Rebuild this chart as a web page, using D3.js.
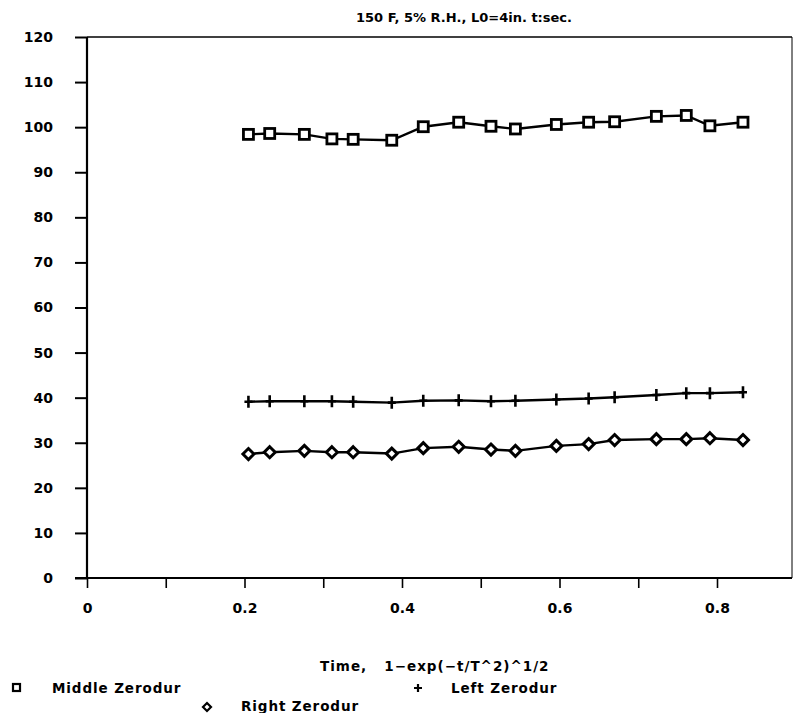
<!DOCTYPE html>
<html>
<head>
<meta charset="utf-8">
<script src="https://cdn.jsdelivr.net/npm/d3@7"></script>
<style>
  body { margin: 0; background: #fff; }
  svg { display: block; }
</style>
</head>
<body>
<svg width="795" height="713"></svg>
<script>
var timeValues = [0.205, 0.232, 0.276, 0.311, 0.338, 0.387, 0.427, 0.472, 0.513, 0.544, 0.596, 0.637, 0.670, 0.723, 0.761, 0.791, 0.833];
var middleZerodur = [98.4, 98.6, 98.4, 97.4, 97.3, 97.1, 100.1, 101.1, 100.2, 99.6, 100.6, 101.1, 101.2, 102.4, 102.6, 100.3, 101.1];
var leftZerodur = [39.1, 39.2, 39.2, 39.2, 39.1, 38.9, 39.3, 39.4, 39.2, 39.3, 39.6, 39.8, 40.1, 40.6, 41.0, 41.0, 41.2];
var rightZerodur = [27.5, 27.9, 28.2, 27.9, 27.9, 27.6, 28.8, 29.1, 28.5, 28.2, 29.3, 29.7, 30.6, 30.8, 30.8, 31.0, 30.6];
var xTicks = [0, 0.1, 0.2, 0.3, 0.4, 0.5, 0.6, 0.7, 0.8];
var xTickLabels = ['0', '', '0.2', '', '0.4', '', '0.6', '', '0.8'];
var yTicks = [0, 10, 20, 30, 40, 50, 60, 70, 80, 90, 100, 110, 120];

var svg = d3.select("svg");
var font = "'DejaVu Sans', sans-serif";

var plotLeft = 87, plotRight = 792, plotTop = 37, plotBottom = 578;

var x = d3.scaleLinear().domain([0, 0.8]).range([87, 717]);
var y = d3.scaleLinear().domain([0, 120]).range([plotBottom, plotTop]);

// frame (top and right lines)
svg.append("line")
    .attr("x1", plotLeft).attr("x2", plotRight)
    .attr("y1", plotTop).attr("y2", plotTop)
    .attr("stroke", "#000").attr("stroke-width", 1.6);
svg.append("line")
    .attr("x1", plotRight).attr("x2", plotRight)
    .attr("y1", plotTop).attr("y2", plotBottom)
    .attr("stroke", "#000").attr("stroke-width", 1);

// y axis
var yAxis = svg.append("g")
    .attr("transform", "translate(" + plotLeft + ",0)")
    .call(d3.axisLeft(y).tickValues(yTicks).tickSize(12).tickPadding(22));
yAxis.select(".domain").attr("stroke-width", 2.2).attr("d", "M0," + plotBottom + "V" + plotTop);
yAxis.selectAll(".tick line").attr("stroke-width", 2);
yAxis.selectAll("text")
    .attr("font-family", font)
    .attr("font-weight", "bold")
    .attr("font-size", 14)
    .attr("fill", "#000");

// x axis
var xAxis = svg.append("g")
    .attr("transform", "translate(0," + plotBottom + ")")
    .call(d3.axisBottom(x).tickValues(xTicks)
        .tickFormat(function(d, i) { return xTickLabels[i]; })
        .tickSize(10).tickPadding(15));
xAxis.select(".domain").attr("stroke-width", 2.2).attr("d", "M" + (plotLeft - 12) + ",0H" + plotRight);
xAxis.selectAll(".tick line").attr("stroke-width", 1.6);
xAxis.selectAll("text")
    .attr("font-family", font)
    .attr("font-weight", "bold")
    .attr("font-size", 14)
    .attr("fill", "#000");

// title
svg.append("text")
    .attr("x", 464)
    .attr("y", 22)
    .attr("text-anchor", "middle")
    .attr("font-family", font)
    .attr("font-weight", "bold")
    .attr("font-size", 13)
    .text("150 F, 5% R.H., L0=4in. t:sec.");

// x axis title
svg.append("text")
    .attr("x", 320)
    .attr("y", 671)
    .attr("font-family", font)
    .attr("font-weight", "bold")
    .attr("font-size", 13.5)
    .attr("letter-spacing", 1)
    .attr("xml:space", "preserve")
    .text("Time,   1\u2212exp(\u2212t/T^2)^1/2");

var line = d3.line()
    .x(function(d) { return x(d[0]); })
    .y(function(d) { return y(d[1]); });

function pairs(values) {
    return values.map(function(v, i) { return [timeValues[i], v]; });
}

var series = [middleZerodur, leftZerodur, rightZerodur];
series.forEach(function(s) {
    svg.append("path")
        .datum(pairs(s))
        .attr("d", line)
        .attr("fill", "none")
        .attr("stroke", "#000")
        .attr("stroke-width", 2.4);
});

// square markers
svg.selectAll(".sq")
    .data(pairs(middleZerodur))
    .enter()
    .append("rect")
    .attr("class", "sq")
    .attr("x", function(d) { return x(d[0]) - 5; })
    .attr("y", function(d) { return y(d[1]) - 5; })
    .attr("width", 10)
    .attr("height", 10)
    .attr("fill", "#fff")
    .attr("stroke", "#000")
    .attr("stroke-width", 2.8);

// plus markers
svg.selectAll(".plus")
    .data(pairs(leftZerodur))
    .enter()
    .append("path")
    .attr("class", "plus")
    .attr("d", function(d) {
        var cx = x(d[0]), cy = y(d[1]);
        return "M" + (cx - 4) + "," + cy + "H" + (cx + 4) + "M" + cx + "," + (cy - 6) + "V" + (cy + 6);
    })
    .attr("stroke", "#000")
    .attr("stroke-width", 2.6);

// diamond markers
svg.selectAll(".dia")
    .data(pairs(rightZerodur))
    .enter()
    .append("path")
    .attr("class", "dia")
    .attr("d", function(d) {
        var cx = x(d[0]), cy = y(d[1]);
        return "M" + cx + "," + (cy - 5.5) + "L" + (cx + 5.5) + "," + cy + "L" + cx + "," + (cy + 5.5) + "L" + (cx - 5.5) + "," + cy + "Z";
    })
    .attr("fill", "#fff")
    .attr("stroke", "#000")
    .attr("stroke-width", 3);

// legend
var legendG = svg.append("g")
    .attr("font-family", font)
    .attr("font-weight", "bold")
    .attr("font-size", 13.5)
    .attr("letter-spacing", 0.9);
legendG.append("rect")
    .attr("x", 13).attr("y", 684).attr("width", 7).attr("height", 7)
    .attr("fill", "#fff").attr("stroke", "#000").attr("stroke-width", 2.2);
legendG.append("text")
    .attr("x", 52).attr("y", 693)
    .text("Middle Zerodur");
legendG.append("path")
    .attr("d", "M414,688H422M418,684V692")
    .attr("stroke", "#000").attr("stroke-width", 2.2);
legendG.append("text")
    .attr("x", 451).attr("y", 693)
    .text("Left Zerodur");
legendG.append("path")
    .attr("d", "M207,703L211,707L207,711L203,707Z")
    .attr("fill", "#fff").attr("stroke", "#000").attr("stroke-width", 2.2);
legendG.append("text")
    .attr("x", 241).attr("y", 711)
    .text("Right Zerodur");
</script>
</body>
</html>
